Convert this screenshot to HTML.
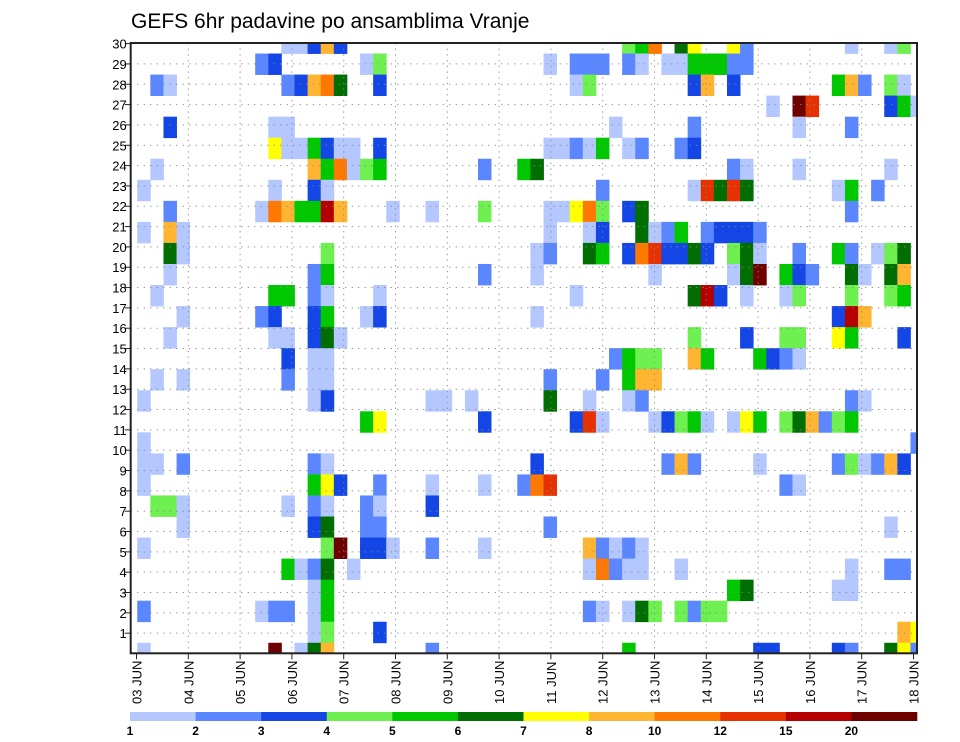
<!DOCTYPE html>
<html><head><meta charset="utf-8"><title>GEFS 6hr padavine po ansamblima Vranje</title>
<style>
html,body{margin:0;padding:0;background:#fff;}
svg{display:block;font-family:"Liberation Sans",sans-serif;}
</style></head>
<body>
<svg id="chart" width="960" height="742" viewBox="0 0 960 742" xmlns="http://www.w3.org/2000/svg">
<text x="131" y="28" font-size="21" fill="#000">GEFS 6hr padavine po ansamblima Vranje</text>
<g id="cells"></g>
<g id="grid"></g>
<g id="yaxis"></g>
<g id="xaxis"></g>
<g id="cbar"></g>
<rect x="130.7" y="43" width="786.3" height="610.3" fill="none" stroke="#222" stroke-width="2"/>
</svg>
<script>
// ---- data (rows top to bottom: member 30 ... member 1; entries "stepIndex+class") ----
const members = [30,29,28,27,26,25,24,23,22,21,20,19,18,17,16,15,14,13,12,11,10,9,8,7,6,5,4,3,2,1];
const dayLabels = ["03 JUN","04 JUN","05 JUN","06 JUN","07 JUN","08 JUN","09 JUN","10 JUN","11 JUN","12 JUN","13 JUN","14 JUN","15 JUN","16 JUN","17 JUN","18 JUN"];
const legendLabels = ["1","2","3","4","5","6","7","8","10","12","15","20"];
const legendThresholds = [1,2,3,4,5,6,7,8,10,12,15,20];
const classValues = {a:1.5,b:2.5,c:3.5,d:4.5,e:5.5,f:6.5,g:7.5,h:9,i:11,j:13.5,k:17.5,l:22};
const precipRows = [
"12a 13a 14c 15h 16c 38d 39e 40i 42f 43g 46g 47b 55a 58a 59d",
"10b 11c 18a 19d 32a 34b 35b 36b 38b 39a 41a 42a 43e 44e 45e 46b 47b",
"2b 3a 12b 13c 14h 15i 16f 19c 34a 35d 43c 44h 46c 54e 55h 56b 58d 59a",
"49a 51l 52j 58c 59e 60a",
"3c 11a 12a 37a 43b 51a 55b",
"11g 12a 13a 14e 15c 16a 17a 19c 32a 33a 34b 35a 36e 38a 39b 42b 43c",
"2a 14h 15e 16i 17a 18d 19e 27b 30e 31f 46b 47a 51a 58a",
"1a 11a 14c 15a 36b 43a 44j 45f 46j 47f 54a 55e 57b",
"3b 10a 11i 12h 13e 14e 15k 16h 20a 23a 27d 32a 33a 34g 35i 36d 38c 39f 55b",
"1a 3h 4a 32a 35a 36c 39f 40a 41b 42e 44b 45c 46c 47c 48b",
"3f 4a 15d 31a 32b 35f 36e 38c 39i 40j 41c 42c 43f 44c 46d 47f 48a 51b 54e 55b 57a 58d 59f",
"3a 14b 15e 27b 31a 40a 46a 47f 48l 50e 51c 52b 55f 56a 58f 59h",
"2a 11e 12e 14b 15a 19a 34a 43f 44k 45c 47a 50a 51d 55d 58d 59e",
"4a 10b 11c 14c 15e 18a 19c 31a 54c 55k 56h",
"3a 11a 12a 14c 15f 16a 43d 47c 50d 51d 54g 55e 59c",
"12c 14a 15a 37b 38e 39d 40d 43h 44e 48e 49c 50b 51a",
"2a 4a 12b 14a 15a 32b 36b 38e 39h 40h",
"1a 14a 15c 23a 24a 26a 32f 35a 38a 39b 55b 56a",
"18e 19g 27c 34c 35j 36a 40a 41c 42d 43e 44a 46a 47g 48e 50d 51f 52h 53b 54d 55e",
"1a 60b",
"1a 2a 4b 14b 15a 31c 41b 42h 43b 48a 54b 55d 56a 57b 58h 59c",
"1a 14e 15g 16c 19b 23a 27a 30b 31i 32j 50b 51a",
"2d 3d 4a 12a 14b 15a 18b 19a 23c",
"4a 14c 15f 18b 19b 32b 58a",
"1a 15d 16l 18c 19c 20a 23b 27a 35h 36b 37a 38b 39a",
"12e 13a 14b 15f 17a 35a 36i 37b 38a 39a 42a 55a 58b 59b",
"14a 15e 46e 47f 54a 55a",
"1b 10a 11b 12b 14a 15e 35b 36a 38a 39f 40d 42d 43b 44d 45d",
"14a 15d 19c 59h 60g",
"1a 11l 13a 14f 15h 23b 38e 48c 49c 54c 55b 58f 59g 60b"
];
const legendColors = ["#b4c8ff","#5a87ff","#1446e6","#6ef050","#00c800","#006e00","#ffff00","#ffb432","#ff7800","#e63200","#b40000","#6e0000"];

const NS = "http://www.w3.org/2000/svg";
const PL = 130.7, PR = 917, PT = 43, PB = 653.3;
const NSTEP = 61;
const stepW = (PR - PL) / (NSTEP - 1);
const rowH = (PB - PT) / (members.length - 1);
function xStep(k){ return PL + stepW * k; }
function yRow(i){ return PT + rowH * i; }
function colorFor(v){
  let idx = -1;
  for (let j = 0; j < legendThresholds.length; j++) if (v >= legendThresholds[j]) idx = j;
  return idx < 0 ? null : legendColors[idx];
}
function mk(tag, attrs, parent){
  const el = document.createElementNS(NS, tag);
  for (const a in attrs) el.setAttribute(a, attrs[a]);
  parent.appendChild(el);
  return el;
}
const cells = document.getElementById('cells');
precipRows.forEach((row, i) => {
  row.split(' ').filter(s => s).forEach(tok => {
    const k = parseInt(tok, 10);
    const v = classValues[tok.replace(/[0-9]/g, '')];
    const c = colorFor(v);
    if (!c) return;
    let x0 = Math.max(PL, xStep(k) - stepW / 2), x1 = Math.min(PR, xStep(k) + stepW / 2);
    let y0 = Math.max(PT, yRow(i) - rowH / 2), y1 = Math.min(PB, yRow(i) + rowH / 2);
    const r = mk('rect', {x: x0.toFixed(2), y: y0.toFixed(2), width: (x1 - x0 + 0.4).toFixed(2), height: (y1 - y0 + 0.4).toFixed(2), fill: c}, cells);
    
    
  });
});
// grid and y axis
const grid = document.getElementById('grid');
const yaxis = document.getElementById('yaxis');
const labelY0 = 653.5, labelDy = 20.33;
for (let m = 1; m <= 30; m++) {
  const y = labelY0 - labelDy * m;
  const gl = mk('line', {x1: PL, x2: PR, y1: y, y2: y, stroke: '#888', 'stroke-width': 1, 'stroke-dasharray': '1.2,5.3'}, grid);
  
  
  const t = mk('line', {x1: PL - 6, x2: PL, y1: y, y2: y, stroke: '#222', 'stroke-width': 1}, yaxis);
  
  
  const tx = mk('text', {x: PL - 4, y: y + 5, 'font-size': 13, 'text-anchor': 'end', fill: '#000'}, yaxis);
  tx.textContent = String(m);
  
  
}
// x axis
const xaxis = document.getElementById('xaxis');
const dayX0 = 136.5, dayDx = (913.5 - 136.5) / 15;
dayLabels.forEach((lab, d) => {
  const x = dayX0 + dayDx * d;
  if (d > 0 && d < 15) {
    const gl = mk('line', {x1: x, x2: x, y1: PT, y2: PB, stroke: '#888', 'stroke-width': 1, 'stroke-dasharray': '1.2,4.5'}, grid);
    
    
  }
  const t = mk('line', {x1: x, x2: x, y1: PB, y2: PB + 6, stroke: '#222', 'stroke-width': 1}, xaxis);
  
  
  const tx = mk('text', {x: 0, y: 0, 'font-size': 13, fill: '#000', transform: 'translate(' + (x + 5) + ',704) rotate(-90)'}, xaxis);
  tx.textContent = lab;
  
  
});
// color legend
const cbar = document.getElementById('cbar');
const cbX0 = 130, cbX1 = 917, cbW = (cbX1 - cbX0) / legendColors.length;
legendColors.forEach((c, j) => {
  const r = mk('rect', {x: (cbX0 + cbW * j).toFixed(2), y: 712, width: (cbW + 0.3).toFixed(2), height: 9, fill: c}, cbar);
  
  
  const tx = mk('text', {x: (cbX0 + cbW * j).toFixed(2), y: 735, 'font-size': 12, 'font-weight': 'bold', 'text-anchor': 'middle', fill: '#000'}, cbar);
  tx.textContent = legendLabels[j];
  
  
});
</script>
</body></html>
